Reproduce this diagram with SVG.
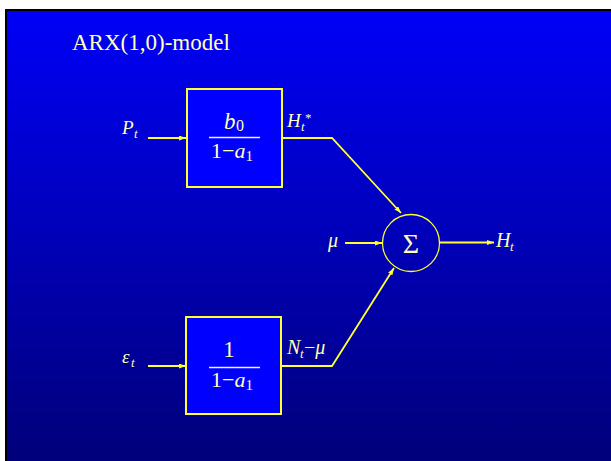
<svg xmlns="http://www.w3.org/2000/svg" width="611" height="461" viewBox="0 0 611 461">
<style>
.t{font-family:"Liberation Serif","Times New Roman",serif;fill:#FFFFB8}
.i{font-style:italic}
.ln{fill:none;stroke:#FFFF33;stroke-width:1.8}
.box{fill:#0000FF;stroke:#FFFF33;stroke-width:2}
.frac{stroke:#F0F0FF;stroke-width:1.3}
</style>
<defs>
<linearGradient id="bg" x1="0" y1="0" x2="0" y2="1">
<stop offset="0" stop-color="#0000F8"/>
<stop offset="1" stop-color="#00007A"/>
</linearGradient>
<marker id="ah" markerUnits="userSpaceOnUse" markerWidth="8" markerHeight="6" refX="7" refY="2.5" orient="auto">
<path d="M0,0 L7,2.5 L0,5 z" fill="#FFFF33"/>
</marker>
</defs>
<rect x="0" y="0" width="611" height="461" fill="#FFFFFF"/>
<rect x="5" y="9" width="606" height="452" fill="#000000"/>
<rect x="7" y="11" width="604" height="450" fill="url(#bg)"/>
<text class="t" x="72" y="50" font-size="23">ARX(1,0)-model</text>
<g id="connectors">
<line class="ln" x1="148" y1="138" x2="186" y2="138" marker-end="url(#ah)"/>
<line class="ln" x1="148" y1="366" x2="186" y2="366" marker-end="url(#ah)"/>
<polyline class="ln" points="282,138 332,138 401,213" marker-end="url(#ah)"/>
<polyline class="ln" points="281,366 332,366 394,268" marker-end="url(#ah)"/>
<line class="ln" x1="345" y1="243" x2="382" y2="243" marker-end="url(#ah)"/>
<line class="ln" x1="440" y1="242.5" x2="494" y2="242.5" marker-end="url(#ah)"/>
</g>
<g id="label-Pt">
<text class="t i" x="122" y="134" font-size="19">P</text>
<text class="t i" x="134" y="138" font-size="13">t</text>
</g>
<g id="label-eps">
<text class="t i" x="122" y="363" font-size="19">ε</text>
<text class="t i" x="131" y="367" font-size="13">t</text>
</g>
<g id="box-top">
<rect class="box" x="187" y="89" width="95" height="98"/>
<text class="t i" x="224" y="129" font-size="23">b</text>
<text class="t" x="236" y="131" font-size="16">0</text>
<line class="frac" x1="209" y1="137.5" x2="260" y2="137.5"/>
<text class="t" x="211" y="158" font-size="22">1−<tspan class="i">a</tspan></text>
<text class="t" x="245.5" y="161" font-size="15">1</text>
</g>
<g id="box-bottom">
<rect class="box" x="186" y="317" width="95" height="97"/>
<text class="t" x="229" y="357" font-size="23" text-anchor="middle">1</text>
<line class="frac" x1="209" y1="367.5" x2="260" y2="367.5"/>
<text class="t" x="211" y="387" font-size="22">1−<tspan class="i">a</tspan></text>
<text class="t" x="245.5" y="390" font-size="15">1</text>
</g>
<g id="label-Hstar">
<text class="t i" x="287" y="127" font-size="19">H</text>
<text class="t i" x="301" y="131" font-size="13">t</text>
<text class="t" x="305" y="122" font-size="13">*</text>
</g>
<g id="label-Nmu">
<text class="t i" x="287" y="354" font-size="20">N</text>
<text class="t i" x="300" y="358" font-size="13">t</text>
<text class="t" x="304" y="354" font-size="20">−<tspan class="i">μ</tspan></text>
</g>
<g id="sum">
<circle cx="411" cy="243" r="28.5" fill="none" stroke="#FFFF33" stroke-width="1.3"/>
<text class="t" x="411" y="253" font-size="28" text-anchor="middle">Σ</text>
</g>
<g id="label-mu">
<text class="t i" x="328" y="247" font-size="20">μ</text>
</g>
<g id="label-Ht">
<text class="t i" x="496" y="247" font-size="20">H</text>
<text class="t i" x="510" y="251" font-size="13">t</text>
</g>
</svg>
